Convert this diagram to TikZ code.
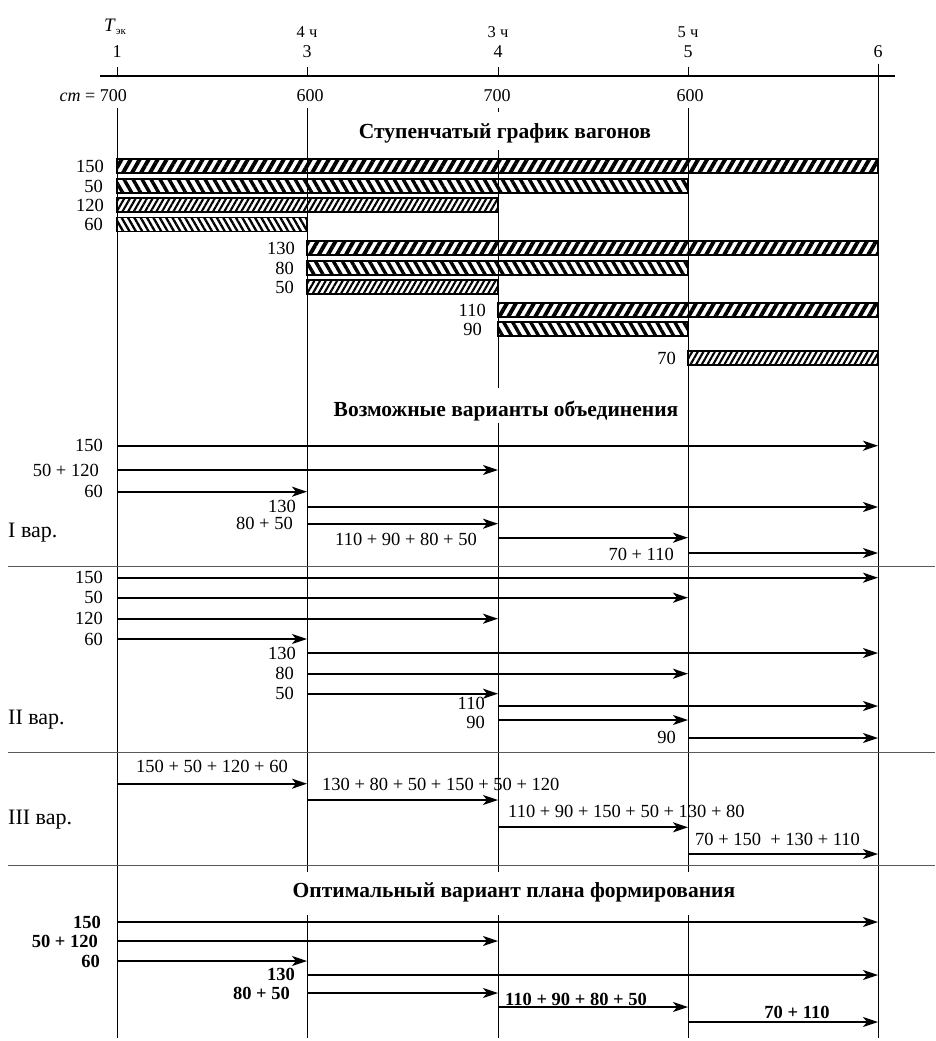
\documentclass[tikz,border=0pt]{standalone}
\usepackage{fontspec}
\setmainfont{Liberation Serif}
\usetikzlibrary{arrows.meta,patterns.meta}
\newcommand\arw[4]{\coordinate (#1a) at (#2,#4); \coordinate (#1b) at (#3,#4); \draw[arr] (#1a) -- (#1b);}
\newcommand\vln[4]{\coordinate (#1a) at (#2,#3); \coordinate (#1b) at (#2,#4); \draw[vline] (#1a) -- (#1b);}
\newcommand\sepln[2]{\coordinate (#1a) at (8,#2); \coordinate (#1b) at (935,#2); \draw[sep] (#1a) -- (#1b);}
\tikzset{
  vline/.style={line width=0.9pt},
  sep/.style={line width=0.9pt, draw=black!65},
  arr/.style={line width=2.1pt, -{Stealth[length=15pt,width=10pt,inset=4pt]}},
  bar/.style={draw, line width=1.3pt},
  hA/.style={bar, pattern={Lines[angle=60,distance=7.8pt,line width=3.9pt]}},
  hB/.style={bar, pattern={Lines[angle=-60,distance=7.8pt,line width=3.4pt]}},
  hC/.style={bar, pattern={Lines[angle=60,distance=4.9pt,line width=2.1pt]}},
  hD/.style={bar, pattern={Lines[angle=-60,distance=5.5pt,line width=2.3pt]}},
  num/.style={font=\fontsize{18.5}{21}\selectfont, inner sep=0pt},
  lab/.style={num, anchor=east},
  labw/.style={num, anchor=west},
  blab/.style={lab, font=\fontsize{18.5}{21}\selectfont\bfseries},
  var/.style={font=\fontsize{22}{24}\selectfont, inner sep=0pt, anchor=west},
  ttl/.style={font=\fontsize{21.5}{24}\selectfont\bfseries, inner sep=0pt, anchor=base},
  hdr/.style={font=\fontsize{18}{20}\selectfont, inner sep=0pt},
  hdrs/.style={font=\fontsize{16.5}{18}\selectfont, inner sep=0pt},
}
\begin{document}
\begin{tikzpicture}[x=1pt,y=-1pt]
\useasboundingbox (0,0) rectangle (935,1041);
% header
\node[hdr] (tek) at (115,27) {\fontsize{19}{21}\selectfont\textit{T}\raisebox{-0.4ex}{\fontsize{11}{12}\selectfont эк}};
\node[hdr] (n1) at (117,52) {1};
\node[hdr] (n3) at (307,52) {3};
\node[hdr] (n4) at (498,52) {4};
\node[hdr] (n5) at (688,52) {5};
\node[hdr] (n6) at (878,52) {6};
\node[hdrs] (h4) at (307,32) {4 ч};
\node[hdrs] (h3) at (498,32) {3 ч};
\node[hdrs] (h5) at (688,32) {5 ч};
\coordinate (axL) at (100,76); \coordinate (axR) at (895,76);
\draw[line width=2.4pt] (axL) -- (axR);
\node[hdr, anchor=east] (st) at (127,96) {\textit{ст} = 700};
\node[hdr] (s3) at (310,96) {600};
\node[hdr] (s4) at (497,96) {700};
\node[hdr] (s5) at (690,96) {600};
% ticks and vertical lines
\vln{t1}{117}{67}{76}
\vln{t3}{307}{67}{76}
\vln{t4}{498}{67}{76}
\vln{t5}{688}{67}{76}
\vln{v6}{878}{64}{1038}
\vln{v1}{117}{108}{1038}
\vln{v3a}{307}{108}{872}
\vln{v3b}{307}{915}{1038}
\vln{v4a}{498}{108}{112}
\vln{v4b}{498}{150}{388}
\vln{v4c}{498}{423}{872}
\vln{v4d}{498}{915}{1038}
\vln{v5a}{688}{108}{872}
\vln{v5b}{688}{915}{1038}
% title 1
\node[ttl] (tt1) at (505,138) {Ступенчатый график вагонов};
% bars
\path[hA] (117,159) rectangle (878,173);
\path[hB] (117,179) rectangle (688,193);
\path[hC] (117,198) rectangle (498,212);
\path[hD] (117,217.7) rectangle (307,231.7);
\path[hA] (307,241) rectangle (878,255);
\path[hB] (307,261) rectangle (688,275);
\path[hC] (307,280) rectangle (498,294);
\path[hA] (498,303) rectangle (878,317);
\path[hB] (498,322) rectangle (688,336);
\path[hC] (688,351) rectangle (878,365);
\node[lab] (b1) at (104,166) {150};
\node[lab] (b2) at (103,186) {50};
\node[lab] (b3) at (104,205) {120};
\node[lab] (b4) at (103,224.7) {60};
\node[lab] (b5) at (295,248) {130};
\node[lab] (b6) at (294,268) {80};
\node[lab] (b7) at (294,287) {50};
\node[lab] (b8) at (486,310) {110};
\node[lab] (b9) at (482,329) {90};
\node[lab] (b10) at (676,358) {70};
% title 2
\node[ttl] (tt2) at (506,416) {Возможные варианты объединения};
% variant I
\node[lab] (I1l) at (103,445.7) {150}; \arw{I1}{117}{878}{445.7}
\node[lab] (I2l) at (99,470) {50 + 120}; \arw{I2}{117}{498}{470}
\node[lab] (I3l) at (103,491.7) {60}; \arw{I3}{117}{307}{491.7}
\node[lab] (I4l) at (296,506) {130}; \arw{I4}{307}{878}{507}
\node[lab] (I5l) at (293,523) {80 + 50}; \arw{I5}{307}{498}{523.7}
\node[lab] (I6l) at (477,539) {110 + 90 + 80 + 50}; \arw{I6}{498}{688}{537.7}
\node[lab] (I7l) at (674,554) {70 + 110}; \arw{I7}{688}{878}{553}
\node[var] (Iv) at (8,533) {I вар.};
\sepln{s1}{566}
% variant II
\node[lab] (J1l) at (103,577.7) {150}; \arw{J1}{117}{878}{577.7}
\node[lab] (J2l) at (103,597.7) {50}; \arw{J2}{117}{688}{597.7}
\node[lab] (J3l) at (103,618.7) {120}; \arw{J3}{117}{498}{618.7}
\node[lab] (J4l) at (103,639) {60}; \arw{J4}{117}{307}{639}
\node[lab] (J5l) at (296,653) {130}; \arw{J5}{307}{878}{653}
\node[lab] (J6l) at (294,673.7) {80}; \arw{J6}{307}{688}{673.7}
\node[lab] (J7l) at (294,693.7) {50}; \arw{J7}{307}{498}{693.7}
\node[lab] (J8l) at (485,703.5) {110}; \arw{J8}{498}{878}{706}
\node[lab] (J9l) at (485,722) {90}; \arw{J9}{498}{688}{720}
\node[lab] (J10l) at (676,737) {90}; \arw{J10}{688}{878}{738}
\node[var] (IIv) at (8,720) {II вар.};
\sepln{s2}{752}
% variant III
\node[labw] (K1l) at (136,766) {150 + 50 + 120 + 60}; \arw{K1}{117}{307}{783.7}
\node[labw] (K2l) at (322,784) {130 + 80 + 50 + 150 + 50 + 120}; \arw{K2}{307}{498}{800}
\node[labw] (K3l) at (508,811) {110 + 90 + 150 + 50 + 130 + 80}; \arw{K3}{498}{688}{827.3}
\node[labw] (K4l) at (695,839) {70 + 150 \ + 130 + 110}; \arw{K4}{688}{878}{854}
\node[var] (IIIv) at (8,820) {III вар.};
\sepln{s3}{865}
% optimal
\node[ttl] (tt3) at (514,897) {Оптимальный вариант плана формирования};
\node[blab] (O1l) at (101,922) {150}; \arw{O1}{117}{878}{922}
\node[blab] (O2l) at (98,941) {50 + 120}; \arw{O2}{117}{498}{941}
\node[blab] (O3l) at (100,961) {60}; \arw{O3}{117}{307}{961}
\node[blab] (O4l) at (295,974) {130}; \arw{O4}{307}{878}{975}
\node[blab] (O5l) at (290,993) {80 + 50}; \arw{O5}{307}{498}{993}
\node[blab, anchor=west] (O6l) at (505,999) {110 + 90 + 80 + 50}; \arw{O6}{498}{688}{1007}
\node[blab, anchor=center] (O7l) at (797,1012) {70 + 110}; \arw{O7}{688}{878}{1022}
\end{tikzpicture}
\end{document}
